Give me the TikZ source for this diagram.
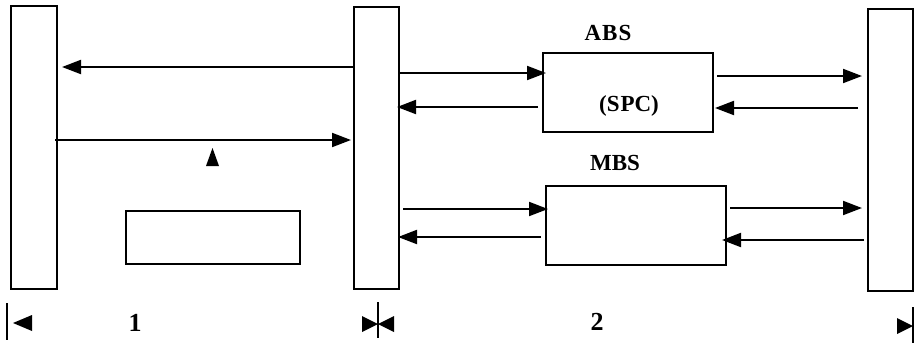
\documentclass[tikz,border=0pt]{standalone}
\usepackage{fontspec}
\setmainfont{Liberation Serif}
\usetikzlibrary{arrows.meta}
\begin{document}
\begin{tikzpicture}[x=1pt,y=-1pt,
  bar/.style={draw,line width=2pt,rectangle,inner sep=0pt},
  blk/.style={draw,line width=2pt,rectangle,inner sep=0pt},
  arr/.style={line width=2pt,-{Triangle[length=19pt,width=14pt]}},
  lbl/.style={font=\bfseries\fontsize{23}{23}\selectfont,inner sep=0pt},
  num/.style={font=\bfseries\fontsize{26}{26}\selectfont,inner sep=0pt},
  tick/.style={line width=1.6pt},
  head/.style={fill=black}]
\useasboundingbox (0,0) rectangle (914,346);
% bars
\node[bar,minimum width=46pt,minimum height=283pt] (L) at (34,147.5) {};
\node[bar,minimum width=45pt,minimum height=282pt] (M) at (376.5,148) {};
\node[bar,minimum width=45pt,minimum height=282pt] (R) at (890.5,150) {};
% blocks
\node[blk,minimum width=170pt,minimum height=79pt] (ABS) at (628,92.5) {};
\node[blk,minimum width=180pt,minimum height=79pt] (MBS) at (636,225.5) {};
\node[blk,minimum width=174pt,minimum height=53pt] (S) at (213,237.5) {};
% labels
\node[lbl] (tABS) at (608,33) {A\kern1pt B\kern1pt S};
\node[lbl] (tSPC) at (629,106) {(S\kern1pt PC)};
\node[lbl] (tMBS) at (615,163) {MBS};
\node[num] (n1) at (135,323) {1};
\node[num] (n2) at (597,322) {2};
% arrows left section
\draw[arr] (M.west |- 0,67) -- ([xshift=4pt]L.east |- 0,67);
\draw[arr] ([xshift=-3pt]L.east |- 0,140) -- ([xshift=-2pt]M.west |- 0,140);
\fill (206,166) -- (212.5,148) -- (219,166) -- cycle;
% ABS arrows
\draw[arr] (M.east |- 0,73) -- ([xshift=4pt]ABS.west |- 0,73);
\draw[arr] ([xshift=-4pt]ABS.west |- 0,107) -- ([xshift=-3pt]M.east |- 0,107);
\draw[arr] ([xshift=3pt]ABS.east |- 0,76) -- ([xshift=-5pt]R.west |- 0,76);
\draw[arr] ([xshift=-9pt]R.west |- 0,108) -- ([xshift=1pt]ABS.east |- 0,108);
% MBS arrows
\draw[arr] ([xshift=3pt]M.east |- 0,209) -- ([xshift=3pt]MBS.west |- 0,209);
\draw[arr] ([xshift=-4pt]MBS.west |- 0,237) -- ([xshift=-2pt]M.east |- 0,237);
\draw[arr] ([xshift=3pt]MBS.east |- 0,208) -- ([xshift=-5pt]R.west |- 0,208);
\draw[arr] ([xshift=-3pt]R.west |- 0,240) -- ([xshift=-5pt]MBS.east |- 0,240);
% dimension markers
\coordinate (d1) at (7,303); \coordinate (d1b) at (7,340);
\coordinate (d2) at (378,302); \coordinate (d2b) at (378,338);
\coordinate (d3) at (913,307); \coordinate (d3b) at (913,343);
\draw[tick] (d1) -- (d1b);
\draw[tick] (d2) -- (d2b);
\draw[tick] (d3) -- (d3b);
\fill[head] (13,323) -- (32,315) -- (32,331) -- cycle;
\fill[head] (378,324) -- (362,316) -- (362,332) -- cycle;
\fill[head] (378,324) -- (394,316) -- (394,332) -- cycle;
\fill[head] (913,326) -- (897,318) -- (897,334) -- cycle;
\end{tikzpicture}
\end{document}
